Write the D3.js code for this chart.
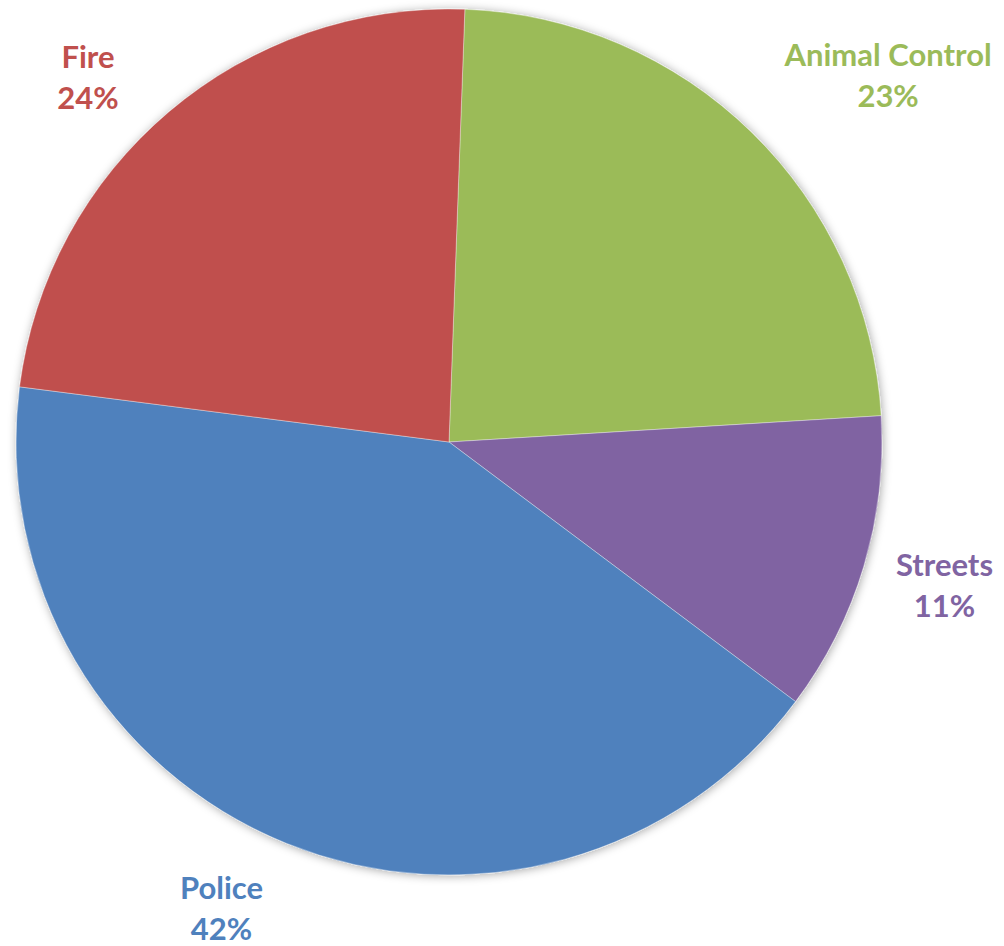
<!DOCTYPE html>
<html>
<head>
<meta charset="utf-8">
<script src="https://cdn.jsdelivr.net/npm/d3@7"></script>
<style>
  html, body { margin: 0; padding: 0; background: #fff; }
  svg { display: block; }
</style>
</head>
<body>
<div id="chart"></div>
<script>
// slice data, clockwise from just right of 12 o'clock
const categories = ["Animal Control", "Streets", "Police", "Fire"];
const shares = [23.45, 11.2, 41.8, 23.55];
const colors = ["#9BBB59", "#8064A2", "#4F81BD", "#C0504D"];

// label layout: shift from the label-arc centroid (px)
const labelNudge = [[61, 11], [-23, -21], [-24, -45], [-11, 39]];

const width = 1004, height = 946;
const cx = 449, cy = 442, radius = 433;

const svg = d3.select("#chart")
    .append("svg")
    .attr("width", width)
    .attr("height", height);

const defs = svg.append("defs");
defs.append("filter")
    .attr("id", "shadow")
    .attr("x", "-10%").attr("y", "-10%")
    .attr("width", "120%").attr("height", "120%")
    .append("feDropShadow")
    .attr("dx", 1).attr("dy", 1)
    .attr("stdDeviation", 5)
    .attr("flood-color", "#000")
    .attr("flood-opacity", 0.35);

const g = svg.append("g")
    .attr("transform", `translate(${cx},${cy})`);

const data = categories.map((c, i) => ({ name: c, value: shares[i], color: colors[i], i }));

const startA = 2.1 * Math.PI / 180;
const pie = d3.pie()
    .sort(null)
    .value(d => d.value)
    .startAngle(startA)
    .endAngle(startA + 2 * Math.PI);

const arcs = pie(data);

const arc = d3.arc().innerRadius(0).outerRadius(radius);
const labelArc = d3.arc().innerRadius(radius * 1.25).outerRadius(radius * 1.25);

// pie with soft shadow
g.append("g")
    .attr("filter", "url(#shadow)")
    .selectAll("path")
    .data(arcs)
    .enter()
    .append("path")
    .attr("d", arc)
    .attr("fill", d => d.data.color)
    .attr("stroke", "#fff")
    .attr("stroke-width", 1)
    .attr("stroke-opacity", 0.35);

// labels: name + rounded percent
const labels = g.selectAll(".label")
    .data(arcs)
    .enter()
    .append("text")
    .attr("class", "label")
    .attr("text-anchor", "middle")
    .attr("font-family", "Lato, 'Open Sans', sans-serif")
    .attr("font-weight", "bold")
    .attr("font-size", 31)
    .attr("fill", d => d.data.color)
    .attr("transform", d => {
        const [x, y] = labelArc.centroid(d);
        const n = labelNudge[d.data.i];
        return `translate(${x + n[0]},${y + n[1]})`;
    });

labels.append("tspan")
    .attr("x", 0)
    .attr("y", 0)
    .text(d => d.data.name);

labels.append("tspan")
    .attr("x", 0)
    .attr("y", 41)
    .text(d => Math.round(d.data.value) + "%");
</script>
</body>
</html>
